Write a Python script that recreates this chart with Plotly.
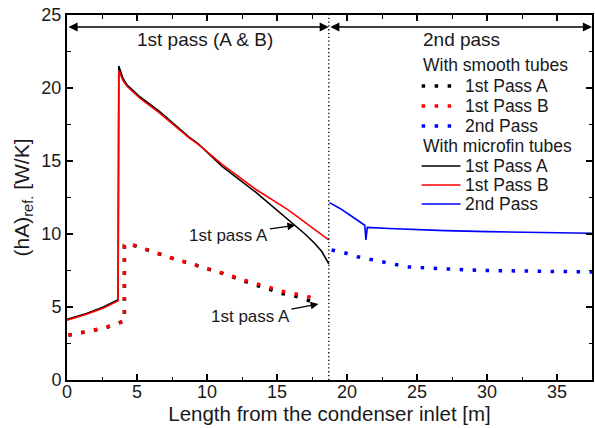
import plotly.graph_objects as go

# ---- data ----
fin_a_x = [0, 1.4, 2.6, 3.65, 3.7, 4.0, 4.3, 5.2, 6.6, 8.7, 9.4, 11.1, 13.5, 15.8, 16.3, 17.0, 17.7, 18.2, 18.7]
fin_a_y = [4.15, 4.55, 5.0, 5.5, 21.5, 20.65, 20.2, 19.4, 18.4, 16.65, 16.15, 14.62, 12.85, 11.0, 10.6, 10.0, 9.35, 8.8, 7.95]

fin_b_x = [0, 1.4, 2.6, 3.65, 3.7, 4.0, 4.3, 5.2, 6.6, 8.7, 9.4, 11.1, 13.5, 15.8, 17.7, 18.7]
fin_b_y = [4.1, 4.5, 4.93, 5.42, 21.2, 20.5, 20.1, 19.3, 18.3, 16.6, 16.12, 14.75, 13.05, 11.65, 10.3, 9.6]

fin_2_x = [18.75, 19.5, 20.2, 21.27, 21.35, 21.45, 23.0, 25.0, 27.0, 30.0, 33.0, 37.5]
fin_2_y = [12.15, 11.75, 11.3, 10.6, 9.6, 10.45, 10.38, 10.3, 10.23, 10.16, 10.1, 10.05]

sm_x = [0.1, 1.0, 1.9, 2.9, 3.8, 4.1, 4.1, 4.35, 5.2, 6.2, 7.0, 7.95, 8.9, 9.8, 10.7, 11.6, 12.5, 13.4, 14.3, 15.2, 16.2, 17.1, 18.0]
sm_a_y = [3.06, 3.22, 3.4, 3.63, 3.9, 4.05, 9.2, 9.35, 9.08, 8.77, 8.49, 8.2, 7.97, 7.67, 7.44, 7.12, 6.85, 6.52, 6.28, 5.95, 5.78, 5.48, 5.2]
sm_b_y = [3.08, 3.24, 3.42, 3.65, 3.92, 4.1, 9.25, 9.4, 9.08, 8.77, 8.49, 8.2, 7.97, 7.67, 7.44, 7.14, 6.89, 6.62, 6.4, 6.1, 5.94, 5.75, 5.48]

sm_2_x = [18.9, 19.8, 20.7, 21.6, 22.5, 23.4, 24.3, 25.2, 26.1, 27.0, 28.8, 30.6, 32.4, 34.2, 36.0, 37.5]
sm_2_y = [8.9, 8.72, 8.45, 8.26, 8.11, 7.92, 7.75, 7.7, 7.65, 7.58, 7.53, 7.49, 7.46, 7.44, 7.4, 7.4]

pass_split = 18.7
x_max = 37.5

group_titles = ["With smooth tubes", "With microfin tubes"]
series_names = ["1st Pass A", "1st Pass B", "2nd Pass"]
series_colors = ["black", "red", "blue"]

FONT = "Liberation Sans, Arial, sans-serif"
TXT = "#1a1a1a"
DOT = "3.5px,9.5px"
DOT_W = 3.5
SOLID_W = 1.6

fig = go.Figure()

def add(x, y, name, color, dash, width):
    fig.add_trace(go.Scatter(x=x, y=y, mode="lines", name=name, showlegend=False,
                             line=dict(color=color, dash=dash, width=width)))

smooth_sets = [(sm_x, sm_a_y), (sm_x, sm_b_y), (sm_2_x, sm_2_y)]
fin_sets = [(fin_a_x, fin_a_y), (fin_b_x, fin_b_y), (fin_2_x, fin_2_y)]
for (x, y), n, c in zip(smooth_sets, series_names, series_colors):
    add(x, y, n, c, DOT, DOT_W)
for (x, y), n, c in zip(fin_sets, series_names, series_colors):
    add(x, y, n, c, "solid", SOLID_W)

# vertical dotted separator
fig.add_shape(type="line", x0=pass_split, x1=pass_split, y0=0, y1=25,
              xref="x", yref="y", line=dict(color="black", width=1.3, dash="1.3px,2.5px"))

# double-headed range arrows for each pass
arrow_y = 24.18
for x0, x1 in [(0, pass_split), (pass_split, x_max)]:
    fig.add_annotation(x=x1, y=arrow_y, ax=x0, ay=arrow_y, xref="x", yref="y",
                       axref="x", ayref="y", text="", showarrow=True,
                       arrowhead=2, startarrowhead=2, arrowside="end+start",
                       arrowsize=1.3, startarrowsize=1.3, arrowwidth=1.4, arrowcolor="black")

fig.add_annotation(x=9.85, y=23.3, text="1st pass (A &amp; B)", showarrow=False,
                   font=dict(size=19, color=TXT, family=FONT), xref="x", yref="y")
fig.add_annotation(x=28.2, y=23.3, text="2nd pass", showarrow=False,
                   font=dict(size=19, color=TXT, family=FONT), xref="x", yref="y")

fig.add_annotation(x=16.3, y=10.6, ax=11.57, ay=9.93, xref="x", yref="y", axref="x", ayref="y",
                   text="1st pass A", showarrow=True, arrowhead=2, arrowsize=1.2, arrowwidth=1.3,
                   arrowcolor="black", font=dict(size=17, color=TXT, family=FONT))
fig.add_annotation(x=17.96, y=5.2, ax=13.1, ay=4.34, xref="x", yref="y", axref="x", ayref="y",
                   text="1st pass A", showarrow=True, arrowhead=2, arrowsize=1.2, arrowwidth=1.3,
                   arrowcolor="black", font=dict(size=17, color=TXT, family=FONT))

# ---- hand-built legend (paper coordinates) ----
L, R, T, B = 67, 594, 15, 380
pw, ph = R - L, B - T
def px(xp): return (xp - L) / pw
def py(yp): return (B - yp) / ph

row_y = [65, 86, 106, 126, 146, 166, 185, 204]
leg_font = dict(size=17.5, color=TXT, family=FONT)
r = 0
for g, (title, dash, width) in enumerate(zip(group_titles, [DOT, "solid"], [DOT_W, SOLID_W])):
    fig.add_annotation(x=px(422), y=py(row_y[r]), xref="paper", yref="paper", text=title,
                       showarrow=False, xanchor="left", yanchor="middle", font=leg_font)
    r += 1
    for n, c in zip(series_names, series_colors):
        x_end = 454 if dash != "solid" else 462
        fig.add_shape(type="line", xref="paper", yref="paper",
                      x0=px(423), x1=px(x_end), y0=py(row_y[r]), y1=py(row_y[r]),
                      line=dict(color=c, dash=dash, width=width))
        fig.add_annotation(x=px(465), y=py(row_y[r]), xref="paper", yref="paper", text=n,
                           showarrow=False, xanchor="left", yanchor="middle", font=leg_font)
        r += 1

axis_common = dict(showline=True, linecolor="black", linewidth=2, mirror="ticks",
                   ticks="inside", ticklen=6, tickwidth=1.5, tickcolor="black",
                   showgrid=False, zeroline=False,
                   tickfont=dict(size=18, color=TXT, family=FONT))

fig.update_xaxes(range=[0, x_max], dtick=5, tick0=0, ticklabelstandoff=-6,
                 minor=dict(dtick=2.5, ticks="inside", ticklen=3.5, tickwidth=1.3, tickcolor="black"),
                 title=dict(text="Length from the condenser inlet [m]", font=dict(size=20.5, color=TXT, family=FONT), standoff=4),
                 **axis_common)
fig.update_yaxes(range=[0, 25], dtick=5, tick0=0,
                 minor=dict(dtick=2.5, ticks="inside", ticklen=3.5, tickwidth=1.3, tickcolor="black"),
                 title=dict(text="(hA)<sub>ref.</sub> [W/K]", font=dict(size=21, color=TXT, family=FONT), standoff=6),
                 **axis_common)

fig.update_layout(
    width=595, height=428,
    margin=dict(l=L, r=595 - R, t=T, b=428 - B),
    paper_bgcolor="white", plot_bgcolor="white",
    font=dict(family=FONT, color=TXT),
    showlegend=False,
)

fig.write_html("out.html")
